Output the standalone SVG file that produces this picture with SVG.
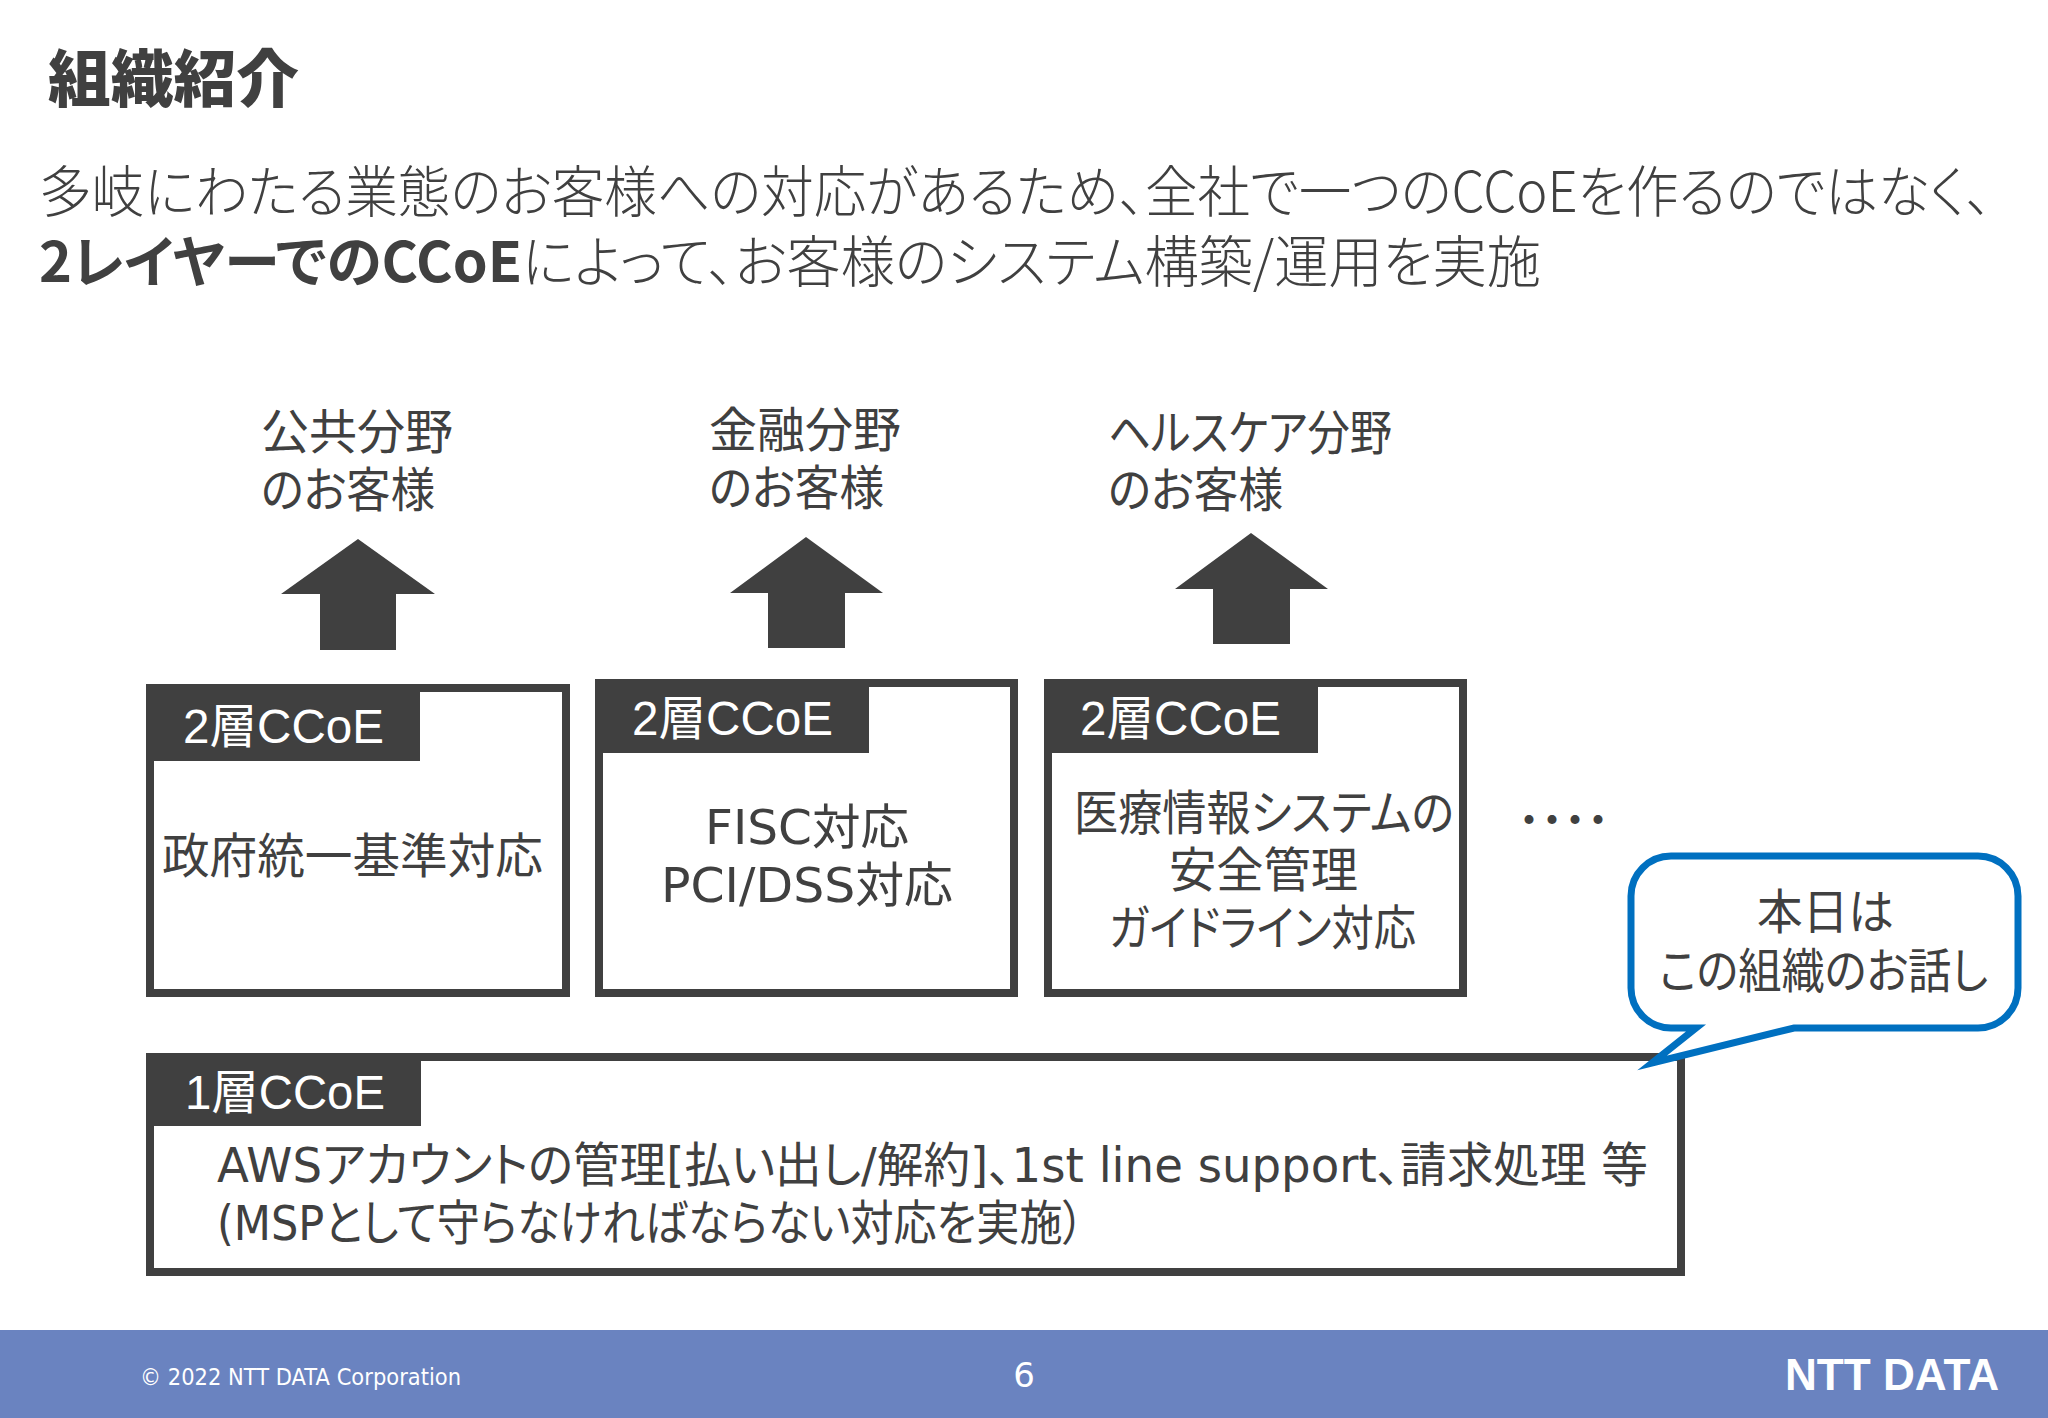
<svg xmlns="http://www.w3.org/2000/svg" width="2048" height="1418" viewBox="0 0 2048 1418">
<style>
text{font-family:"Liberation Sans","Noto Sans CJK JP",sans-serif;fill:#404040;font-size:48px;font-feature-settings:"palt";}
.h{font-family:"Noto Sans CJK JP",sans-serif;}
.v{font-family:"DejaVu Sans","Noto Sans CJK JP",sans-serif;}
.b{font-weight:700;}
.w{fill:#fff;}
.box{fill:#fff;stroke:#404040;stroke-width:8;}
.tag{fill:#404040;}
.arrow{fill:#404040;}
</style>
<rect width="2048" height="1418" fill="#fff"/>
<g id="heading">
<text class="h" x="48" y="102" style="font-size:62px;font-weight:900" textLength="251" lengthAdjust="spacingAndGlyphs">組織紹介</text>
<text class="h" x="39" y="212" style="font-size:56px;font-weight:300" textLength="1953" lengthAdjust="spacingAndGlyphs">多岐にわたる業態のお客様への対応があるため、全社で一つのCCoEを作るのではなく、</text>
<text class="h b" x="39" y="282" style="font-size:56px" textLength="483" lengthAdjust="spacingAndGlyphs">2レイヤーでのCCoE</text>
<text class="h" x="522" y="282" style="font-size:56px;font-weight:300" textLength="1019" lengthAdjust="spacingAndGlyphs">によって、お客様のシステム構築/運用を実施</text>
</g>
<g id="connectors">
<polygon class="arrow" points="358,539 435,594 396,594 396,650 320,650 320,594 281,594"/>
<polygon class="arrow" points="806,537 883,593 845,593 845,648 768,648 768,593 730,593"/>
<polygon class="arrow" points="1251,533 1328,589 1290,589 1290,644 1213,644 1213,589 1175,589"/>
</g>
<g id="customer-public">
<text class="h" x="261" y="449" textLength="192" lengthAdjust="spacingAndGlyphs">公共分野</text>
<text class="h" x="261" y="507" textLength="174" lengthAdjust="spacingAndGlyphs">のお客様</text>
</g>
<g id="customer-finance">
<text class="h" x="709" y="447" textLength="192" lengthAdjust="spacingAndGlyphs">金融分野</text>
<text class="h" x="709" y="505" textLength="175" lengthAdjust="spacingAndGlyphs">のお客様</text>
</g>
<g id="customer-health">
<text class="h" x="1108" y="450" textLength="284" lengthAdjust="spacingAndGlyphs">ヘルスケア分野</text>
<text class="h" x="1108" y="507" textLength="175" lengthAdjust="spacingAndGlyphs">のお客様</text>
</g>
<g id="layer2-public">
<rect class="box" x="150" y="688" width="416" height="305"/>
<rect class="tag" x="150" y="690" width="270" height="71"/>
<text class="w" x="183" y="743" textLength="201" lengthAdjust="spacingAndGlyphs">2層CCoE</text>
<text class="h" x="162" y="873" textLength="381" lengthAdjust="spacingAndGlyphs">政府統一基準対応</text>
</g>
<g id="layer2-finance">
<rect class="box" x="599" y="683" width="415" height="310"/>
<rect class="tag" x="599" y="682" width="270" height="71"/>
<text class="w" x="632" y="735" textLength="201" lengthAdjust="spacingAndGlyphs">2層CCoE</text>
<text class="v" x="705" y="844" textLength="204" lengthAdjust="spacingAndGlyphs">FISC対応</text>
<text class="v" x="661" y="902" textLength="292" lengthAdjust="spacingAndGlyphs">PCI/DSS対応</text>
</g>
<g id="layer2-health">
<rect class="box" x="1048" y="683" width="415" height="310"/>
<rect class="tag" x="1048" y="682" width="270" height="71"/>
<text class="w" x="1080" y="735" textLength="201" lengthAdjust="spacingAndGlyphs">2層CCoE</text>
<text class="h" x="1074" y="830" textLength="380" lengthAdjust="spacingAndGlyphs">医療情報システムの</text>
<text class="h" x="1169" y="887" textLength="189" lengthAdjust="spacingAndGlyphs">安全管理</text>
<text class="h" x="1109" y="945" textLength="307" lengthAdjust="spacingAndGlyphs">ガイドライン対応</text>
</g>
<g id="ellipsis">
<text class="h" x="1508 1531 1554 1577" y="835" style="font-size:42px;font-feature-settings:normal">・・・・</text>
</g>
<g id="layer1">
<rect class="box" x="150" y="1057" width="1531" height="215"/>
<rect class="tag" x="151" y="1059" width="270" height="67"/>
<text class="w" x="185" y="1109" textLength="200" lengthAdjust="spacingAndGlyphs">1層CCoE</text>
<text class="v" x="217" y="1182" textLength="1431" lengthAdjust="spacingAndGlyphs">AWSアカウントの管理[払い出し/解約]、1st line support、請求処理 等</text>
<text class="v" x="217" y="1240" textLength="867" lengthAdjust="spacingAndGlyphs">(MSPとして守らなければならない対応を実施）</text>
</g>
<g id="callout">
<path d="M1671,856 H1978 A40,40 0 0 1 2018,896 V988 A40,40 0 0 1 1978,1028 H1794 L1652,1063 L1696,1028 H1671 A40,40 0 0 1 1631,988 V896 A40,40 0 0 1 1671,856 Z" fill="#fff" stroke="#0070c0" stroke-width="7" stroke-miterlimit="10"/>
<text class="h" x="1757" y="929" textLength="137" lengthAdjust="spacingAndGlyphs">本日は</text>
<text class="h" x="1659" y="988" textLength="329" lengthAdjust="spacingAndGlyphs">この組織のお話し</text>
</g>
<g id="footer">
<rect x="0" y="1330" width="2048" height="88" fill="#6a83c0"/>
<text x="140" y="1385" class="w" style="font-family:'DejaVu Sans',sans-serif;font-size:23px" textLength="321" lengthAdjust="spacingAndGlyphs">© 2022 NTT DATA Corporation</text>
<text x="1024" y="1387" class="w" text-anchor="middle" style="font-family:'DejaVu Sans',sans-serif;font-size:34px">6</text>
<text x="1785" y="1390" class="w b" style="font-size:44px" textLength="214" lengthAdjust="spacingAndGlyphs">NTT DATA</text>
</g>
</svg>
